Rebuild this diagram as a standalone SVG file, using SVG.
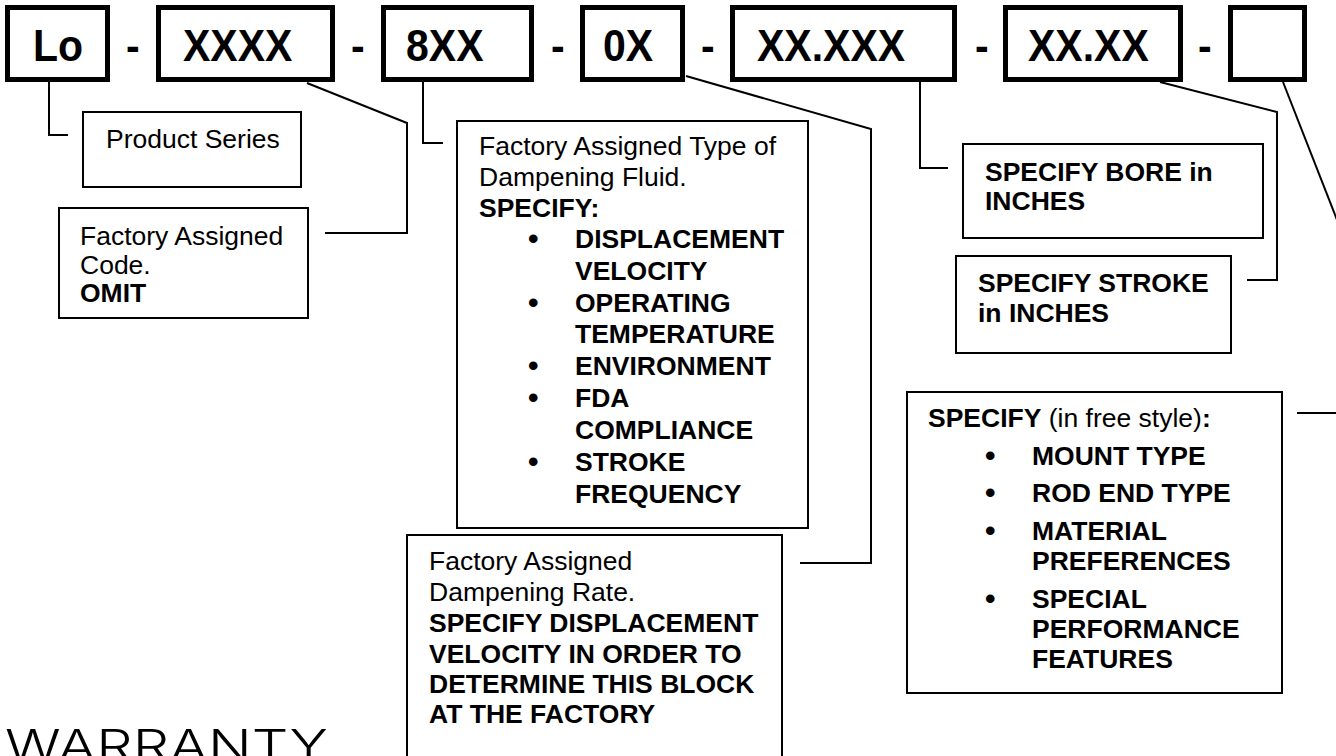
<svg xmlns="http://www.w3.org/2000/svg" width="1336" height="756" viewBox="0 0 1336 756">
  <style>
    .code { fill: #fff; stroke: #000; stroke-width: 5; }
    .note { fill: #fff; stroke: #000; stroke-width: 2; }
    .big { font-family: "Liberation Sans", Arial, sans-serif; font-weight: bold; font-size: 41px; fill: #000; }
    .t { font-family: "Liberation Sans", Arial, sans-serif; font-size: 26.5px; fill: #000; }
    .b { font-weight: bold; }
    .dot { font-size: 30px; }
    .wire { fill: none; stroke: #000; stroke-width: 2; }
  </style>

  <rect width="1336" height="756" fill="#fff"/>

  <!-- connectors -->
  <g id="connectors">
    <path class="wire" d="M49,82 V135 H68"/>
    <path class="wire" d="M307,83 L407,123 V233 H325"/>
    <path class="wire" d="M423,82 V143 H443"/>
    <path class="wire" d="M686,76 L871,129 V563 H800"/>
    <path class="wire" d="M920,82 V168 H948"/>
    <path class="wire" d="M1160,82 L1277,112 V280 H1247"/>
    <path class="wire" d="M1283,82 L1343,235"/>
    <path class="wire" d="M1297,413 H1340"/>
  </g>

  <!-- part number code blocks -->
  <g id="code-lo">
    <rect class="code" x="7.5" y="7.5" width="100" height="72"/>
    <text class="big" transform="translate(33,61) scale(1,1.08)">Lo</text>
  </g>
  <text class="big" transform="translate(126,61) scale(1,1.08)">-</text>
  <g id="code-xxxx">
    <rect class="code" x="158.5" y="7.5" width="174" height="72"/>
    <text class="big" transform="translate(183,61) scale(1,1.08)">XXXX</text>
  </g>
  <text class="big" transform="translate(351,61) scale(1,1.08)">-</text>
  <g id="code-8xx">
    <rect class="code" x="383.5" y="7.5" width="148" height="72"/>
    <text class="big" transform="translate(406,61) scale(1,1.08)">8XX</text>
  </g>
  <text class="big" transform="translate(551,61) scale(1,1.08)">-</text>
  <g id="code-0x">
    <rect class="code" x="582.5" y="7.5" width="100" height="72"/>
    <text class="big" transform="translate(603,61) scale(1,1.08)">0X</text>
  </g>
  <text class="big" transform="translate(701,61) scale(1,1.08)">-</text>
  <g id="code-bore">
    <rect class="code" x="732.5" y="7.5" width="222" height="72"/>
    <text class="big" transform="translate(757,61) scale(1,1.08)">XX.XXX</text>
  </g>
  <text class="big" transform="translate(975,61) scale(1,1.08)">-</text>
  <g id="code-stroke">
    <rect class="code" x="1005.5" y="7.5" width="175" height="72"/>
    <text class="big" transform="translate(1028,61) scale(1,1.08)">XX.XX</text>
  </g>
  <text class="big" transform="translate(1198,61) scale(1,1.08)">-</text>
  <g id="code-options">
    <rect class="code" x="1230.5" y="7.5" width="74" height="72"/>
  </g>

  <!-- explanation boxes -->
  <g id="note-series">
    <rect class="note" x="83" y="112" width="218" height="75"/>
    <text class="t" x="106" y="148">Product Series</text>
  </g>

  <g id="note-code">
    <rect class="note" x="59" y="208" width="249" height="110"/>
    <text class="t" x="80" y="245">Factory Assigned</text>
    <text class="t" x="80" y="274">Code.</text>
    <text class="t b" x="80" y="302">OMIT</text>
  </g>

  <g id="note-fluid">
    <rect class="note" x="457" y="121" width="351" height="407"/>
    <text class="t" x="479" y="155">Factory Assigned Type of</text>
    <text class="t" x="479" y="186">Dampening Fluid.</text>
    <text class="t b" x="479" y="217">SPECIFY:</text>
    <text class="t b" y="248"><tspan class="dot" x="528" y="249">•</tspan><tspan x="575" y="248">DISPLACEMENT</tspan></text>
    <text class="t b" x="575" y="280">VELOCITY</text>
    <text class="t b" y="312"><tspan class="dot" x="528" y="313">•</tspan><tspan x="575" y="312">OPERATING</tspan></text>
    <text class="t b" x="575" y="343">TEMPERATURE</text>
    <text class="t b" y="375"><tspan class="dot" x="528" y="376">•</tspan><tspan x="575" y="375">ENVIRONMENT</tspan></text>
    <text class="t b" y="407"><tspan class="dot" x="528" y="408">•</tspan><tspan x="575" y="407">FDA</tspan></text>
    <text class="t b" x="575" y="439">COMPLIANCE</text>
    <text class="t b" y="471"><tspan class="dot" x="528" y="472">•</tspan><tspan x="575" y="471">STROKE</tspan></text>
    <text class="t b" x="575" y="503">FREQUENCY</text>
  </g>

  <g id="note-rate">
    <rect class="note" x="407" y="535" width="375" height="240"/>
    <text class="t" x="429" y="570">Factory Assigned</text>
    <text class="t" x="429" y="601">Dampening Rate.</text>
    <text class="t b" x="429" y="632">SPECIFY DISPLACEMENT</text>
    <text class="t b" x="429" y="663">VELOCITY IN ORDER TO</text>
    <text class="t b" x="429" y="693">DETERMINE THIS BLOCK</text>
    <text class="t b" x="429" y="723">AT THE FACTORY</text>
  </g>

  <g id="note-bore">
    <rect class="note" x="963" y="144" width="300" height="94"/>
    <text class="t b" x="985" y="181">SPECIFY BORE in</text>
    <text class="t b" x="985" y="210">INCHES</text>
  </g>

  <g id="note-stroke">
    <rect class="note" x="956" y="256" width="275" height="97"/>
    <text class="t b" x="978" y="292">SPECIFY STROKE</text>
    <text class="t b" x="978" y="322">in INCHES</text>
  </g>

  <g id="note-options">
    <rect class="note" x="907" y="392" width="375" height="301"/>
    <text class="t" x="928" y="427"><tspan class="b">SPECIFY</tspan> (in free style)<tspan class="b">:</tspan></text>
    <text class="t b" y="465"><tspan class="dot" x="985" y="466">•</tspan><tspan x="1032" y="465">MOUNT TYPE</tspan></text>
    <text class="t b" y="502"><tspan class="dot" x="985" y="503">•</tspan><tspan x="1032" y="502">ROD END TYPE</tspan></text>
    <text class="t b" y="540"><tspan class="dot" x="985" y="541">•</tspan><tspan x="1032" y="540">MATERIAL</tspan></text>
    <text class="t b" x="1032" y="570">PREFERENCES</text>
    <text class="t b" y="608"><tspan class="dot" x="985" y="609">•</tspan><tspan x="1032" y="608">SPECIAL</tspan></text>
    <text class="t b" x="1032" y="638">PERFORMANCE</text>
    <text class="t b" x="1032" y="668">FEATURES</text>
  </g>

  <!-- section heading -->
  <text x="5" y="762" font-family="Inter, 'Open Sans', sans-serif" font-weight="300" font-size="45" textLength="323" lengthAdjust="spacingAndGlyphs" fill="#000">WARRANTY</text>
</svg>
